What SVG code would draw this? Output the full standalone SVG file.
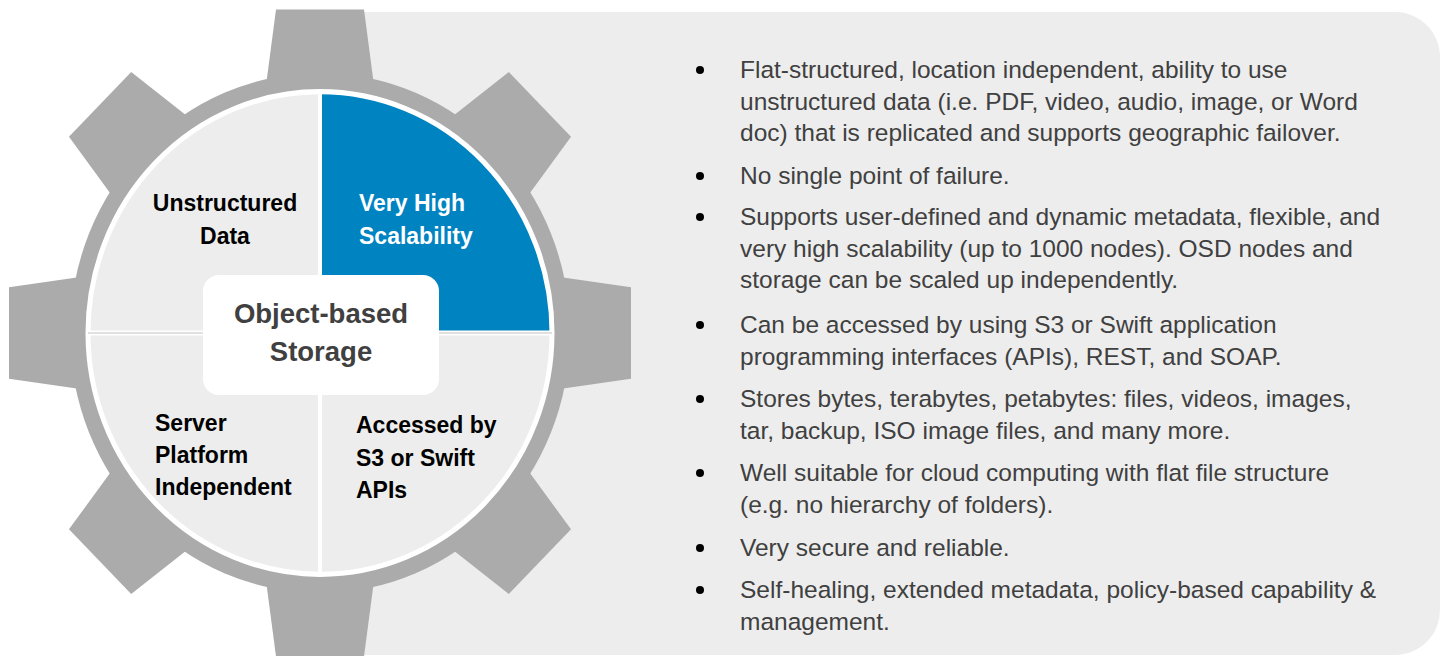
<svg xmlns="http://www.w3.org/2000/svg" width="1444" height="656" viewBox="0 0 1444 656">
<defs>
<style>
.body{font-family:"Liberation Sans",Arial,sans-serif;font-size:24.5px;fill:#404040}
.lbl{font-family:"Liberation Sans",Arial,sans-serif;font-size:23px;font-weight:bold;fill:#000}
.wlbl{font-family:"Liberation Sans",Arial,sans-serif;font-size:23px;font-weight:bold;fill:#fff}
.ctr{font-family:"Liberation Sans",Arial,sans-serif;font-size:27.5px;font-weight:bold;fill:#404040}
.tooth{fill:#ABABAB}
.bul{fill:#000}
</style>
<polygon id="tooth" points="238,-54 311,-44 311,44 238,54"/>
</defs>
<rect width="1444" height="656" fill="#fff"/>
<g id="panel">
<path d="M300 12 H1395 A45 45 0 0 1 1440 57 V610 A45 45 0 0 1 1395 655 H300 Z" fill="#EDEDED"/>
</g>
<g id="gear" transform="translate(320,333) scale(1,1.04)">
<circle r="250" fill="#ABABAB"/>
<use href="#tooth" class="tooth"/>
<use href="#tooth" class="tooth" transform="rotate(45)"/>
<use href="#tooth" class="tooth" transform="rotate(90)"/>
<use href="#tooth" class="tooth" transform="rotate(135)"/>
<use href="#tooth" class="tooth" transform="rotate(180)"/>
<use href="#tooth" class="tooth" transform="rotate(225)"/>
<use href="#tooth" class="tooth" transform="rotate(270)"/>
<use href="#tooth" class="tooth" transform="rotate(315)"/>
<circle r="231" fill="#EDEDED"/>
<path d="M2 -2 V-231 A231 231 0 0 1 231 -2 Z" fill="#0083C1"/>
<circle r="232" fill="none" stroke="#fff" stroke-width="5"/>
<line x1="0" y1="-232" x2="0" y2="232" stroke="#fff" stroke-width="4"/>
<line x1="-232" y1="0" x2="232" y2="0" stroke="#fff" stroke-width="5"/>
<line x1="-232" y1="0" x2="232" y2="0" stroke="#C4C4C4" stroke-width="1.2"/>
</g>
<g id="q-unstructured">
<text class="lbl" text-anchor="middle"><tspan x="225" y="211">Unstructured</tspan><tspan x="225" y="244">Data</tspan></text>
</g>
<g id="q-scalability">
<text class="wlbl"><tspan x="359" y="211">Very High</tspan><tspan x="359" y="244">Scalability</tspan></text>
</g>
<g id="q-server">
<text class="lbl"><tspan x="155" y="431">Server</tspan><tspan x="155" y="463">Platform</tspan><tspan x="155" y="495">Independent</tspan></text>
</g>
<g id="q-accessed">
<text class="lbl"><tspan x="356" y="433">Accessed by</tspan><tspan x="356" y="466">S3 or Swift</tspan><tspan x="356" y="498">APIs</tspan></text>
</g>
<g id="center">
<rect x="203" y="275" width="236" height="120" rx="16" fill="#fff"/>
<text class="ctr" text-anchor="middle"><tspan x="321" y="323">Object-based</tspan><tspan x="321" y="361">Storage</tspan></text>
</g>
<g id="bullets">
<circle class="bul" cx="700" cy="70" r="4"/>
<circle class="bul" cx="700" cy="176" r="4"/>
<circle class="bul" cx="700" cy="217" r="4"/>
<circle class="bul" cx="700" cy="325" r="4"/>
<circle class="bul" cx="700" cy="399" r="4"/>
<circle class="bul" cx="700" cy="473" r="4"/>
<circle class="bul" cx="700" cy="548" r="4"/>
<circle class="bul" cx="700" cy="590" r="4"/>
<text class="body"><tspan x="740" y="78">Flat-structured, location independent, ability to use</tspan><tspan x="740" y="109.5">unstructured data (i.e. PDF, video, audio, image, or Word</tspan><tspan x="740" y="141">doc) that is replicated and supports geographic failover.</tspan></text>
<text class="body"><tspan x="740" y="184">No single point of failure.</tspan></text>
<text class="body"><tspan x="740" y="225">Supports user-defined and dynamic metadata, flexible, and</tspan><tspan x="740" y="256.5">very high scalability (up to 1000 nodes). OSD nodes and</tspan><tspan x="740" y="288">storage can be scaled up independently.</tspan></text>
<text class="body"><tspan x="740" y="333">Can be accessed by using S3 or Swift application</tspan><tspan x="740" y="364.5">programming interfaces (APIs), REST, and SOAP.</tspan></text>
<text class="body"><tspan x="740" y="407">Stores bytes, terabytes, petabytes: files, videos, images,</tspan><tspan x="740" y="438.5">tar, backup, ISO image files, and many more.</tspan></text>
<text class="body"><tspan x="740" y="481">Well suitable for cloud computing with flat file structure</tspan><tspan x="740" y="512.5">(e.g. no hierarchy of folders).</tspan></text>
<text class="body"><tspan x="740" y="556">Very secure and reliable.</tspan></text>
<text class="body"><tspan x="740" y="598">Self-healing, extended metadata, policy-based capability &amp;</tspan><tspan x="740" y="629.5">management.</tspan></text>
</g>
</svg>
